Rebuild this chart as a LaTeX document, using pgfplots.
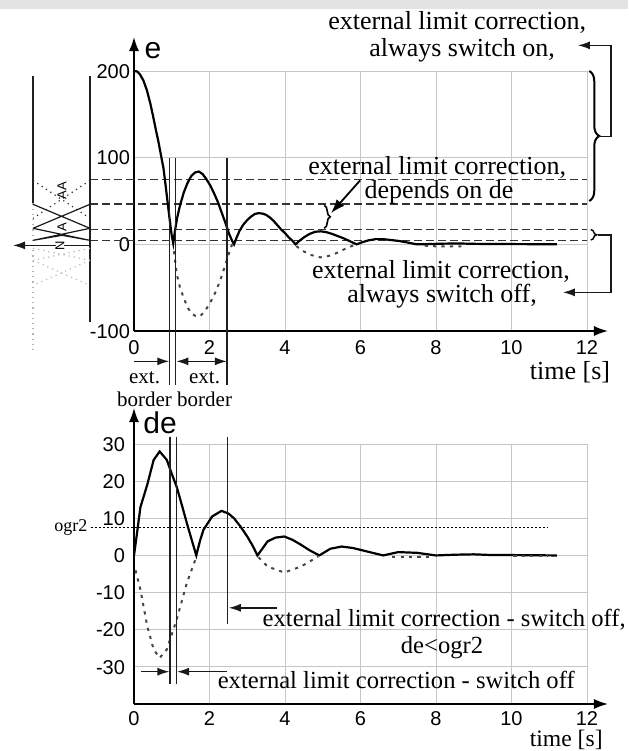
\documentclass[border=0pt]{standalone}
\usepackage{fontspec}
\setmainfont{Liberation Serif}
\setsansfont{Liberation Sans}
\usepackage{pgfplots}
\pgfplotsset{compat=1.18}
\usetikzlibrary{arrows.meta,decorations.pathreplacing}

\pgfplotsset{
  ctrl/.style={
    scale only axis, width=226.5pt, height=130pt,
    xmin=0, xmax=12,
    axis x line=bottom, axis y line=left,
    xtick={0,2,...,12}, xticklabels={0,2,4,6,8,10,12},
    grid=major, major grid style={gray!45, line width=0.4pt},
    major tick length=0pt,
    tick label style={font=\sffamily\fontsize{10}{12}\selectfont, text height=7.2pt, text depth=0pt},
    xticklabel style={inner sep=0.5pt, yshift=-3.8pt},
    clip=false,
  },
}
\tikzset{
  tx/.style={font=\fontsize{13}{15}\selectfont, inner sep=0pt},
  tb/.style={font=\fontsize{12.3}{14}\selectfont, inner sep=0pt},
  vl/.style={gray!25!black, line width=0.65pt},
  ar/.style={-{Latex[length=6pt,width=4pt]}, gray!20!black, line width=0.7pt},
  neg/.style={gray!55!black, line width=1pt, dash pattern=on 1.6pt off 2.6pt},
  lim/.style={gray!40!black, line width=0.7pt, dash pattern=on 4pt off 2pt},
}

\begin{document}
\begin{tikzpicture}
\useasboundingbox (-67pt,165.5pt) rectangle (247pt,-210pt);
\fill[gray!22] (-67pt,165.5pt) rectangle (247pt,161pt);

% ---- e(t) ----
\begin{axis}[ctrl,
  ymin=-100, ymax=200,
  ytick={-100,0,100,200}, yticklabels={-100,0,100,200},
  yticklabel style={xshift=1.5pt},
  x axis line style={-{Latex[length=7pt,width=5pt]}, shorten >=-10.5pt, line width=0.8pt},
  y axis line style={-{Latex[length=7pt,width=5pt]}, shorten >=-17pt, line width=0.8pt},
]
% limit levels
\draw[lim] (-1.166,75) -- (12,75);
\draw[lim] (-1.166,46.5) -- (12,46.5);
\draw[lim] (-1.166,17) -- (12,17);
\draw[lim] (-1.166,4.6) -- (12,4.6);

\addplot[black, line width=1.1pt] coordinates {
 (0,200) (0.08,199.5) (0.16,196) (0.25,189) (0.34,178) (0.43,163) (0.51,147)
 (0.58,132) (0.64,120) (0.71,104) (0.78,88) (0.84,67) (0.9,45) (0.95,27) (1.0,10) (1.04,1)
 (1.08,14) (1.14,30) (1.22,45) (1.32,60) (1.42,71) (1.52,79) (1.62,83) (1.72,84)
 (1.82,81) (1.92,75) (2.02,68) (2.12,59) (2.22,49) (2.32,37) (2.42,25) (2.52,12) (2.6,4) (2.65,0)
 (2.72,8) (2.8,16) (2.9,23) (3.0,28) (3.1,32) (3.2,35) (3.3,36) (3.4,35.5) (3.5,34)
 (3.6,31) (3.7,27) (3.8,22) (3.9,17) (4.0,13) (4.1,8) (4.2,4) (4.28,0)
 (4.38,4) (4.5,8) (4.65,12) (4.8,14.5) (4.95,15) (5.1,14) (5.25,12) (5.4,9.5) (5.55,7)
 (5.7,4) (5.82,1.5) (5.9,0)
 (6.05,2.5) (6.2,4.5) (6.4,6) (6.6,6) (6.8,5) (7.0,4) (7.2,2.5) (7.49,0)
 (7.8,0.3) (8.2,0.8) (8.6,1) (9.0,0.6) (9.5,0.3) (10,0.3) (10.5,0.2) (11.2,0.2)
};
\addplot[neg] coordinates {
 (1.06,-8) (1.13,-34) (1.22,-50) (1.31,-61) (1.42,-73) (1.53,-80) (1.64,-83) (1.75,-83)
 (1.88,-77) (2.01,-68) (2.15,-56) (2.28,-42) (2.41,-25) (2.54,-7) (2.6,0)
};
\addplot[neg] coordinates {
 (4.3,-2) (4.45,-7) (4.66,-12) (4.93,-15) (5.15,-13.5) (5.37,-10) (5.6,-5) (5.85,-0.5)
};
\addplot[neg] coordinates {(7.7,-1.5) (8.0,-2.3) (8.7,-2.3)};

% membership sketch on the left
\draw[gray!25!black, line width=0.6pt] (-2.675,193.8) -- (-2.675,47.3);
\draw[gray!60, line width=0.6pt, dotted] (-2.675,47.3) -- (-2.675,-124.6);
\draw[gray!25!black, line width=0.6pt] (-1.166,193.8) -- (-1.166,-90);
\draw[gray!30!black, line width=0.6pt, dotted] (-2.675,73.8) -- (-1.166,30) (-1.166,73.8) -- (-2.675,30);
\draw[gray!20!black, line width=0.6pt] (-2.675,46.2) -- (-1.166,18.5) (-1.166,46.2) -- (-2.675,18.5)
  (-2.675,18.5) -- (-1.166,4.6) (-1.166,18.5) -- (-2.675,4.6)
  (-2.675,4.6) -- (-1.907,10.4) -- (-1.166,4.6);
\draw[gray!55, line width=0.6pt, dotted] (-2.675,-4.6) -- (-1.166,-18.5) (-1.166,-4.6) -- (-2.675,-18.5)
  (-2.675,-18.5) -- (-1.166,-47.3) (-1.166,-18.5) -- (-2.675,-47.3);
\draw[ar] (-1.166,-1.2) -- (-3.205,-1.2);
\node[rotate=90, font=\sffamily\fontsize{6.5}{7}\selectfont, inner sep=0pt] at (-1.907,62) {AA};
\node[rotate=90, font=\sffamily\fontsize{6.5}{7}\selectfont, inner sep=0pt] at (-1.907,20) {A};
\node[rotate=90, font=\sffamily\fontsize{6.5}{7}\selectfont, inner sep=0pt, fill=white] at (-1.96,-1.2) {N};

% external borders
\draw[vl] (0.935,100) -- (0.935,-162.7);
\draw[vl] (1.10,100) -- (1.10,-162.7);
\draw[vl] (2.46,100) -- (2.46,-162.7);
\draw[ar] (0,-135) -- (0.935,-135);
\draw[{Latex[length=6pt,width=4pt]}-{Latex[length=6pt,width=4pt]}, gray!20!black, line width=0.7pt] (1.12,-135) -- (2.46,-135);
\node[font=\fontsize{10.5}{12}\selectfont] at (0.28,-153.5) {ext.};
\node[font=\fontsize{10.5}{12}\selectfont] at (1.87,-153.5) {ext.};
\node[font=\fontsize{10.5}{12}\selectfont] at (0.28,-178.8) {border};
\node[font=\fontsize{10.5}{12}\selectfont] at (1.87,-178.8) {border};

% braces and notes
\draw[decorate, decoration={brace, amplitude=5pt}, line width=1pt] (12.06,200) -- (12.06,50);
\draw[ar] (12.29,124.6) -- (12.64,124.6) -- (12.64,229.6) -- (11.76,229.6);
\draw[decorate, decoration={brace, amplitude=3pt}, line width=0.7pt] (12.1,17) -- (12.1,5);
\draw[ar] (12.29,11) -- (12.64,11) -- (12.64,-55.4) -- (11.36,-55.4);
\draw[decorate, decoration={brace, amplitude=3pt}, line width=0.8pt] (5.04,45) -- (5.04,18.5);
\draw[-{Latex[length=7pt,width=5pt]}, black, line width=0.9pt] (5.99,73.8) -- (5.22,36);

\node[tx] at (8.56,256) {external limit correction,};
\node[tx] at (8.69,223.8) {always switch on,};
\node[tx] at (8.03,88.8) {external limit correction,};
\node[tx] at (8.08,60) {depends on de};
\node[tx] at (8.13,-31.5) {external limit correction,};
\node[tx] at (8.16,-59.5) {always switch off,};

\node[font=\sffamily\fontsize{15}{18}\selectfont] at (0.5,224) {e};
\node[tx] at (11.55,-147.7) {time [s]};
\end{axis}

% ---- de(t) ----
\begin{axis}[ctrl, at={(0pt,-186.5pt)},
  ymin=-40, ymax=30,
  ytick={-30,-20,...,30}, yticklabels={-30,-20,-10,0,10,20,30},
  yticklabel style={xshift=-1pt},
  xticklabel style={yshift=1pt},
  x axis line style={-{Latex[length=7pt,width=5pt]}, shorten >=-10.5pt, line width=0.8pt},
  y axis line style={-{Latex[length=7pt,width=5pt]}, shorten >=-18pt, line width=0.8pt},
]
\draw[black, line width=0.6pt, dash pattern=on 1pt off 1pt] (-1.152,7.6) -- (10.95,7.6);
\node[font=\fontsize{9}{10}\selectfont] at (-1.67,7.6) {ogr2};

\addplot[black, line width=1.1pt] coordinates {
 (0,0) (0.08,6) (0.17,13) (0.35,19) (0.52,25.7) (0.68,28) (0.87,25.7) (1.0,22) (1.13,18.5)
 (1.27,13.5) (1.4,8.7) (1.52,4.5) (1.65,0)
 (1.75,4) (1.84,6.9) (2.07,10.5) (2.32,12) (2.5,11.3) (2.65,10) (2.82,7.8) (3.0,5.1) (3.15,2.5) (3.27,0)
 (3.54,3.8) (3.75,4.8) (3.98,5.1) (4.2,4.2) (4.42,2.9) (4.65,1.4) (4.91,0)
 (5.2,1.8) (5.5,2.4) (5.8,2.0) (6.2,1.0) (6.6,0) (7.0,0.9) (7.5,0.7) (8.0,0)
 (8.5,0.2) (9,0.3) (9.5,0.1) (10,0.1) (11.2,0)
};
\addplot[neg] coordinates {
 (0.04,-4) (0.17,-9.2) (0.35,-19) (0.52,-25.3) (0.68,-27.6) (0.87,-25.3) (1.13,-17.3) (1.4,-7.4) (1.63,-1)
};
\addplot[neg] coordinates {(3.3,-0.5) (3.54,-3) (3.98,-4.6) (4.42,-3) (4.88,-0.3)};
\addplot[neg] coordinates {(6.84,-0.5) (7.81,-0.5)};
\addplot[neg] coordinates {(10.05,-0.2) (10.95,-0.2)};

\draw[vl] (0.95,32) -- (0.95,-34.5);
\draw[vl] (1.12,32) -- (1.12,-34.5);
\draw[vl] (2.47,32) -- (2.47,-18.4);
\draw[ar] (3.79,-14.1) -- (2.51,-14.1);
\draw[ar] (0.19,-31.3) -- (0.94,-31.3);
\draw[ar] (2.47,-31.3) -- (1.14,-31.3);

\node[tb, anchor=west] at (3.40,-17.3) {external limit correction - switch off,};
\node[tb] at (8.16,-24.8) {de<ogr2};
\node[tb, anchor=west] at (2.21,-33.4) {external limit correction - switch off};

\node[font=\sffamily\fontsize{15}{18}\selectfont] at (0.69,35.7) {de};
\node[font=\fontsize{11.8}{13}\selectfont, inner sep=0pt, anchor=south] at (11.45,-52.3) {time [s]};
\end{axis}
\end{tikzpicture}
\end{document}
